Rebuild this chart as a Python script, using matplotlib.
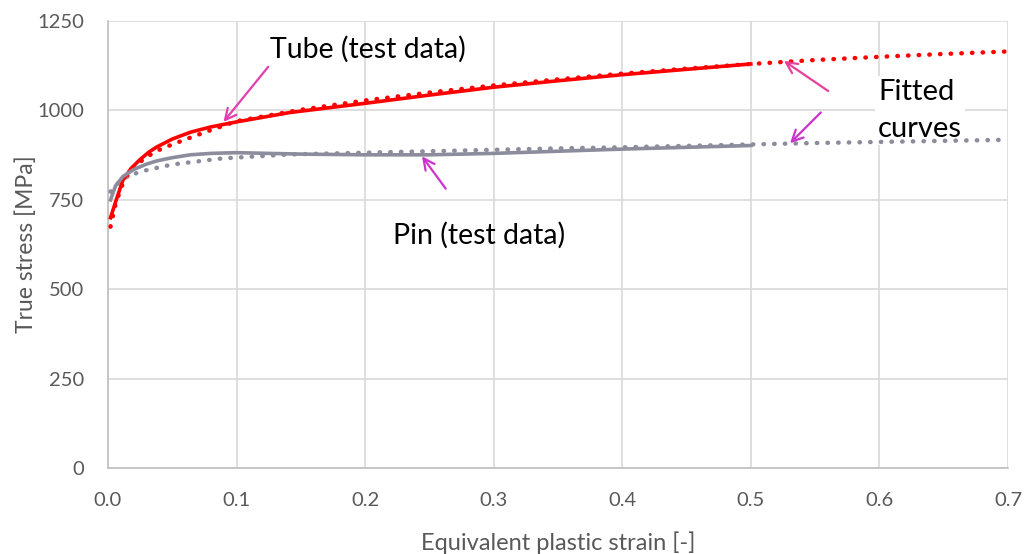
import matplotlib
matplotlib.use("Agg")
import matplotlib.pyplot as plt

plt.rcParams['font.family'] = ['Lato', 'DejaVu Sans']

# Tube test data (solid red)
tube_x = [0.002, 0.006, 0.0116, 0.018, 0.025, 0.032, 0.038, 0.05, 0.064, 0.08, 0.1, 0.141, 0.2, 0.25, 0.3, 0.35, 0.4, 0.45, 0.5]
tube_y = [700, 745, 805, 838, 863, 884, 898, 920, 939, 954, 968, 994, 1020, 1043, 1065, 1083, 1100, 1115, 1130]

# Tube fitted curve (dotted red)
tube_fit_x = [0.002, 0.006, 0.012, 0.02, 0.03, 0.04, 0.05, 0.064, 0.08, 0.1, 0.15, 0.2, 0.25, 0.3, 0.35, 0.4, 0.45, 0.5, 0.55, 0.6, 0.65, 0.7]
tube_fit_y = [675, 740, 800, 842, 870, 890, 905, 924, 945, 970, 1002, 1028, 1050, 1070, 1087, 1103, 1117, 1130, 1141, 1150, 1158, 1165]

# Pin test data (solid grey)
pin_x = [0.002, 0.006, 0.0116, 0.02, 0.03, 0.038, 0.05, 0.064, 0.08, 0.1, 0.15, 0.2, 0.25, 0.3, 0.35, 0.4, 0.45, 0.5]
pin_y = [750, 790, 815, 835, 850, 859, 868, 876, 880, 882, 878, 876, 876, 880, 886, 892, 897, 902]

# Pin fitted curve (dotted grey)
pin_fit_x = [0.002, 0.006, 0.012, 0.025, 0.05, 0.089, 0.141, 0.2, 0.25, 0.3, 0.35, 0.4, 0.45, 0.5, 0.55, 0.6, 0.65, 0.7]
pin_fit_y = [773, 790, 810, 829, 849, 866, 877, 882, 886, 890, 894, 897, 901, 905, 909, 912, 915, 918]

red = '#FF0000'
grey = '#8C8C9C'
dots = (0, (0.1, 2.3))

fig, ax = plt.subplots(figsize=(10.28, 5.54), dpi=100)
fig.subplots_adjust(left=0.105, right=0.9805, bottom=0.155, top=0.962)

ax.plot(tube_fit_x, tube_fit_y, color=red, lw=3.2, ls=dots, dash_capstyle='round', zorder=3)
ax.plot(tube_x, tube_y, color=red, lw=2.6, zorder=4)
ax.plot(pin_fit_x, pin_fit_y, color=grey, lw=3.2, ls=dots, dash_capstyle='round', zorder=3)
ax.plot(pin_x, pin_y, color=grey, lw=2.6, zorder=4)

ax.set_xlim(0, 0.7)
ax.set_ylim(0, 1250)
ax.set_xticks([0.0, 0.1, 0.2, 0.3, 0.4, 0.5, 0.6, 0.7])
ax.set_xticklabels(['0.0', '0.1', '0.2', '0.3', '0.4', '0.5', '0.6', '0.7'])
ax.set_yticks([0, 250, 500, 750, 1000, 1250])
ax.grid(True, color='#D9D9D9', lw=1.2, zorder=0)
ax.set_axisbelow(True)
for s in ['top', 'right']:
    ax.spines[s].set_visible(False)
for s in ['left', 'bottom']:
    ax.spines[s].set_color('#BFBFBF')
    ax.spines[s].set_linewidth(1.2)
ax.tick_params(length=0, labelsize=14.5, colors='#595959')
ax.tick_params(axis='x', pad=17)
ax.tick_params(axis='y', pad=17)
ax.set_xlabel('Equivalent plastic strain [-]', fontsize=17, color='#595959', labelpad=16)
ax.set_ylabel('True stress [MPa]', fontsize=16.5, color='#595959', labelpad=0)

# annotations
ax.text(0.202, 1170, 'Tube (test data)', fontsize=20.5, ha='center', va='center', zorder=6)
ax.text(0.289, 652, 'Pin (test data)', fontsize=20.5, ha='center', va='center', zorder=6)
ax.text(0.599, 1000, 'Fitted\ncurves', fontsize=21, ha='left', va='center', linespacing=1.5,
        bbox=dict(facecolor='white', edgecolor='none', pad=2), zorder=2.5)

ax.annotate('', xy=(0.0885, 962), xytext=(0.126, 1128),
            arrowprops=dict(arrowstyle='->,head_length=0.8,head_width=0.4', color='#E040B0', lw=1.6), zorder=7)
ax.annotate('', xy=(0.524, 1143), xytext=(0.562, 1050),
            arrowprops=dict(arrowstyle='->,head_length=0.8,head_width=0.4', color='#E8409A', lw=1.6), zorder=7)
ax.annotate('', xy=(0.529, 903), xytext=(0.556, 1000),
            arrowprops=dict(arrowstyle='->,head_length=0.8,head_width=0.4', color='#CC33CC', lw=1.6), zorder=7)
ax.annotate('', xy=(0.243, 878), xytext=(0.264, 775),
            arrowprops=dict(arrowstyle='->,head_length=0.8,head_width=0.4', color='#CC33CC', lw=1.6), zorder=7)

fig.savefig('out.png', dpi=100)
